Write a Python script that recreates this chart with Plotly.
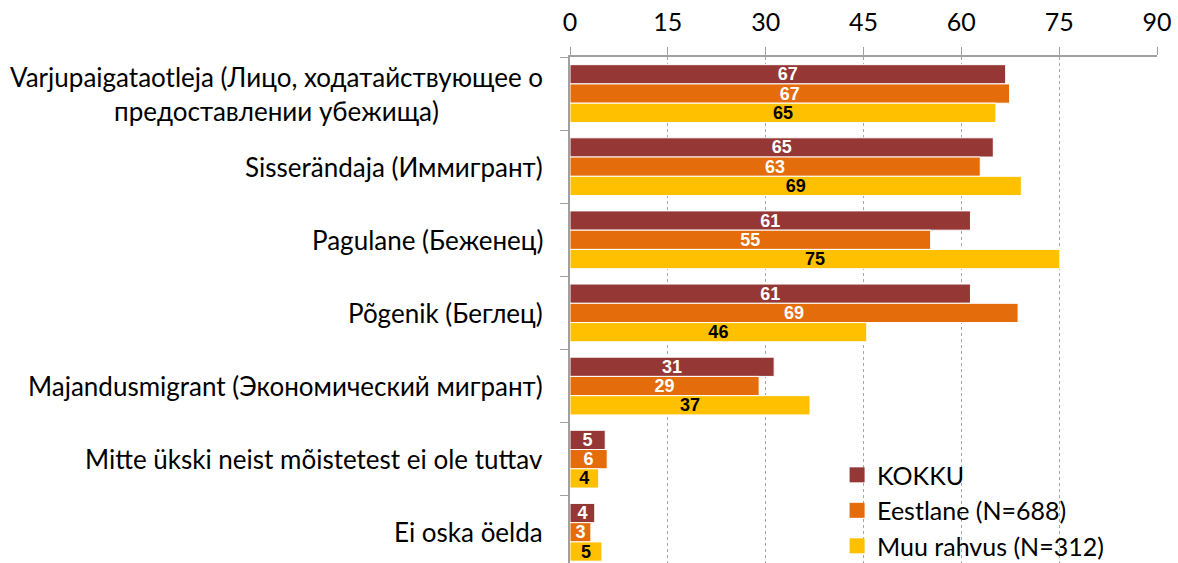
import plotly.graph_objects as go

categories = [
    "Varjupaigataotleja (Лицо, ходатайствующее о<br>предоставлении убежища)",
    "Sisserändaja (Иммигрант)",
    "Pagulane (Беженец)",
    "Põgenik (Беглец)",
    "Majandusmigrant (Экономический мигрант)",
    "Mitte ükski neist mõistetest ei ole tuttav",
    "Ei oska öelda",
]
series_names = ["KOKKU", "Eestlane (N=688)", "Muu rahvus (N=312)"]
kokku = [66.8, 64.9, 61.4, 61.4, 31.3, 5.4, 3.8]
eestlane = [67.4, 62.9, 55.3, 68.7, 29.0, 5.7, 3.2]
muu = [65.3, 69.2, 75.1, 45.5, 36.8, 4.4, 4.9]
tick_vals = [0, 15, 30, 45, 60, 75, 90]

colors = ["#953735", "#E46C0A", "#FFC000"]
text_colors = ["#FFFFFF", "#FFFFFF", "#000000"]

LABEL_FONT = "Lato, Carlito, Calibri, sans-serif"
NUM_FONT = "Liberation Sans, Arial, sans-serif"

fig = go.Figure()
for name, vals, c, tc in zip(series_names, [kokku, eestlane, muu], colors, text_colors):
    fig.add_trace(go.Bar(
        name=name,
        y=categories,
        x=vals,
        orientation="h",
        marker=dict(color=c, line=dict(color="#FFFFFF", width=1)),
        text=[f"{round(v):d}" for v in vals],
        textposition="inside",
        insidetextanchor="middle",
        textangle=0,
        constraintext="none",
        textfont=dict(family=NUM_FONT, size=18, color=tc, weight="bold"),
        hoverinfo="skip",
        showlegend=False,
    ))

# legend entries with larger square swatches
for name, c in zip(series_names, colors):
    fig.add_trace(go.Scatter(
        name=name, x=[None], y=[None], mode="markers",
        marker=dict(symbol="square", size=15, color=c),
        showlegend=True, hoverinfo="skip",
    ))

for cat in categories:
    fig.add_annotation(
        x=0, xref="paper", xanchor="right", xshift=-25,
        y=cat, yref="y", yanchor="middle",
        text=cat, showarrow=False, align="center",
        font=dict(family=LABEL_FONT, size=26, color="#000000"),
    )

fig.update_layout(
    width=1178, height=563,
    margin=dict(l=570, r=21, t=57, b=0, pad=0, autoexpand=False),
    paper_bgcolor="white", plot_bgcolor="white",
    barmode="group", bargap=0.21, bargroupgap=0,
    showlegend=True,
    legend=dict(
        x=0.455, y=-0.012, xanchor="left", yanchor="bottom",
        font=dict(family=LABEL_FONT, size=25, color="#000000"),
        bgcolor="rgba(0,0,0,0)", traceorder="normal",
        tracegroupgap=0, itemsizing="trace", itemwidth=30,
    ),
    xaxis=dict(
        side="top", range=[0, 90], tickvals=tick_vals,
        ticks="outside", ticklen=8, tickcolor="#A0A0A0", tickwidth=1,
        showline=True, linecolor="#A0A0A0", linewidth=1.5,
        showgrid=True, gridcolor="#A6A6A6", griddash="dot", gridwidth=1,
        zeroline=False,
        tickfont=dict(family=LABEL_FONT, size=25, color="#000000"),
        ticklabelstandoff=6,
        fixedrange=True,
    ),
    yaxis=dict(
        type="category", categoryorder="array", categoryarray=categories,
        range=[6.42, -0.5], showticklabels=False,
        ticks="outside", ticklen=8, tickcolor="#A0A0A0", tickson="boundaries",
        showline=True, linecolor="#A0A0A0", linewidth=1.5,
        showgrid=False, zeroline=False, fixedrange=True,
    ),
)

fig.write_html(
    "out.html",
    config={"displayModeBar": False},
    post_script="document.body.style.margin='0';document.body.style.overflow='hidden';",
)
